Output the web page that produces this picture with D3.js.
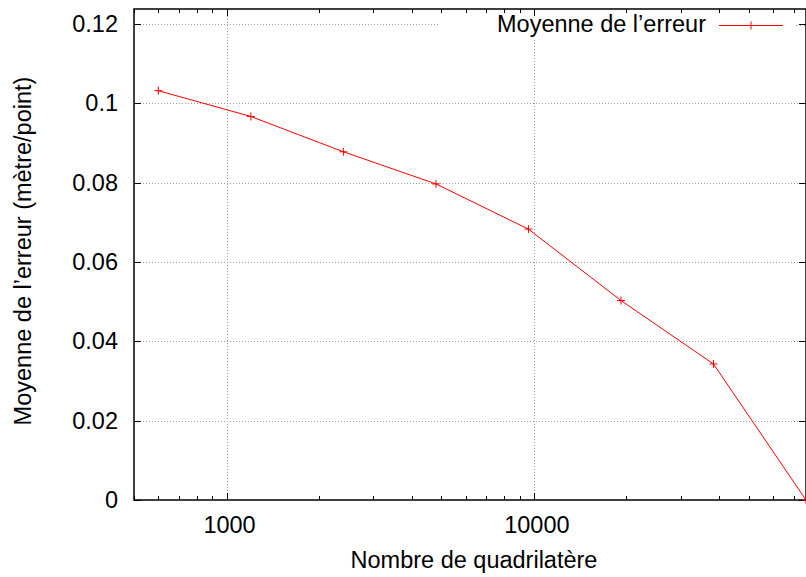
<!DOCTYPE html>
<html>
<head>
<meta charset="utf-8">
<script src="https://cdn.jsdelivr.net/npm/d3@7"></script>
<style>
  body { margin: 0; background: #fff; }
  text { font-family: "Liberation Sans", Arial, sans-serif; fill: #000; }
</style>
</head>
<body>
<div id="chart"></div>
<script>
// quadrilateral counts and mean error (metre/point)
const nbQuad = [600, 1200, 2400, 4800, 9600, 19200, 38400, 76800]
const erreur = [0.1032, 0.0967, 0.0878, 0.0797, 0.0683, 0.0503, 0.0343, 0]
const yTicks = [0, 0.02, 0.04, 0.06, 0.08, 0.1, 0.12]
const xTicks = [1000, 10000]
const serieLabel = "Moyenne de l\u2019erreur"

const width = 806, height = 577
const margin = { top: 9, right: 0, bottom: 77, left: 134 }
const fs = 23.5

const svg = d3.select("#chart").append("svg")
  .attr("width", width)
  .attr("height", height)

const x = d3.scaleLog()
  .domain([500, 76800])
  .range([margin.left, width - margin.right])

const y = d3.scaleLinear()
  .domain([0, 0.1238])
  .range([height - margin.bottom, margin.top])

const [x0, x1] = x.range()
const [y0, y1] = y.range()

// minor ticks for log axis
const minor = []
for (let p = 100; p <= 100000; p *= 10) {
  for (let k = 2; k <= 9; k++) {
    const v = k * p
    if (v >= 500 && v <= 76800) minor.push(v)
  }
}

// grid
const grid = svg.append("g")
  .attr("stroke", "#a0a0a0")
  .attr("stroke-width", 1)
  .attr("stroke-dasharray", "1,2")
grid.selectAll(".gy").data(yTicks.filter(d => d > 0)).enter()
  .append("line")
  .attr("x1", x0).attr("x2", x1)
  .attr("y1", d => Math.round(y(d)) + 0.5).attr("y2", d => Math.round(y(d)) + 0.5)
grid.selectAll(".gx").data(xTicks).enter()
  .append("line")
  .attr("x1", d => Math.round(x(d)) + 0.5).attr("x2", d => Math.round(x(d)) + 0.5)
  .attr("y1", y0).attr("y2", y1)

// legend background hides grid
svg.append("rect")
  .attr("x", 440).attr("y", y1 + 1)
  .attr("width", width - 440).attr("height", 28)
  .attr("fill", "#fff")

// ticks
const tk = svg.append("g").attr("stroke", "#000").attr("stroke-width", 1)
tk.selectAll(".tyl").data(yTicks).enter().append("line")
  .attr("x1", x0).attr("x2", x0 + 7)
  .attr("y1", d => Math.round(y(d)) + 0.5).attr("y2", d => Math.round(y(d)) + 0.5)
tk.selectAll(".tyr").data(yTicks).enter().append("line")
  .attr("x1", x1).attr("x2", x1 - 7)
  .attr("y1", d => Math.round(y(d)) + 0.5).attr("y2", d => Math.round(y(d)) + 0.5)
const allX = xTicks.map(v => ({ v, len: 7 })).concat(minor.map(v => ({ v, len: 4 })))
tk.selectAll(".txb").data(allX).enter().append("line")
  .attr("x1", d => Math.round(x(d.v)) + 0.5).attr("x2", d => Math.round(x(d.v)) + 0.5)
  .attr("y1", y0).attr("y2", d => y0 - d.len)
tk.selectAll(".txt").data(allX).enter().append("line")
  .attr("x1", d => Math.round(x(d.v)) + 0.5).attr("x2", d => Math.round(x(d.v)) + 0.5)
  .attr("y1", y1).attr("y2", d => y1 + d.len)

// frame
svg.append("rect")
  .attr("x", x0).attr("y", y1)
  .attr("width", x1 - x0).attr("height", y0 - y1)
  .attr("fill", "none")
  .attr("stroke", "#000")
  .attr("stroke-width", 1.5)

// tick labels
svg.selectAll(".ly").data(yTicks).enter().append("text")
  .attr("x", 118)
  .attr("y", d => y(d) + 8)
  .attr("text-anchor", "end")
  .attr("font-size", fs)
  .text(d => d3.format("")(+d.toFixed(2)))
svg.selectAll(".lx").data(xTicks).enter().append("text")
  .attr("x", d => x(d) + 3)
  .attr("y", 533)
  .attr("text-anchor", "middle")
  .attr("font-size", fs)
  .text(d => d)

// axis titles
svg.append("text")
  .attr("x", 474).attr("y", 568)
  .attr("text-anchor", "middle")
  .attr("font-size", fs)
  .text("Nombre de quadrilatère")
svg.append("text")
  .attr("transform", "translate(31,251) rotate(-90)")
  .attr("text-anchor", "middle")
  .attr("font-size", fs)
  .text("Moyenne de l\u2019erreur (mètre/point)")

// series
const line = d3.line()
  .x((d, i) => x(nbQuad[i]))
  .y(d => y(d))
svg.append("path")
  .datum(erreur)
  .attr("d", line)
  .attr("fill", "none")
  .attr("stroke", "#ff0000")
  .attr("stroke-width", 1)

svg.selectAll(".pt").data(erreur).enter().append("path")
  .attr("d", (d, i) => `M${x(nbQuad[i]) - 4},${y(d)}h8M${x(nbQuad[i])},${y(d) - 4}v8`)
  .attr("stroke", "#ff0000")
  .attr("stroke-width", 1)

// legend
svg.append("text")
  .attr("x", 706).attr("y", 32)
  .attr("text-anchor", "end")
  .attr("font-size", fs)
  .text(serieLabel)
svg.append("line")
  .attr("x1", 719).attr("x2", 783)
  .attr("y1", 25.5).attr("y2", 25.5)
  .attr("stroke", "#ff0000")
svg.append("path")
  .attr("d", "M747,25.5h8M751,21.5v8")
  .attr("stroke", "#ff0000")
svg.append("line")
  .attr("x1", 796).attr("x2", 806)
  .attr("y1", 25.5).attr("y2", 25.5)
  .attr("stroke", "#a0a0a0")
  .attr("stroke-dasharray", "1,3")
</script>
</body>
</html>
